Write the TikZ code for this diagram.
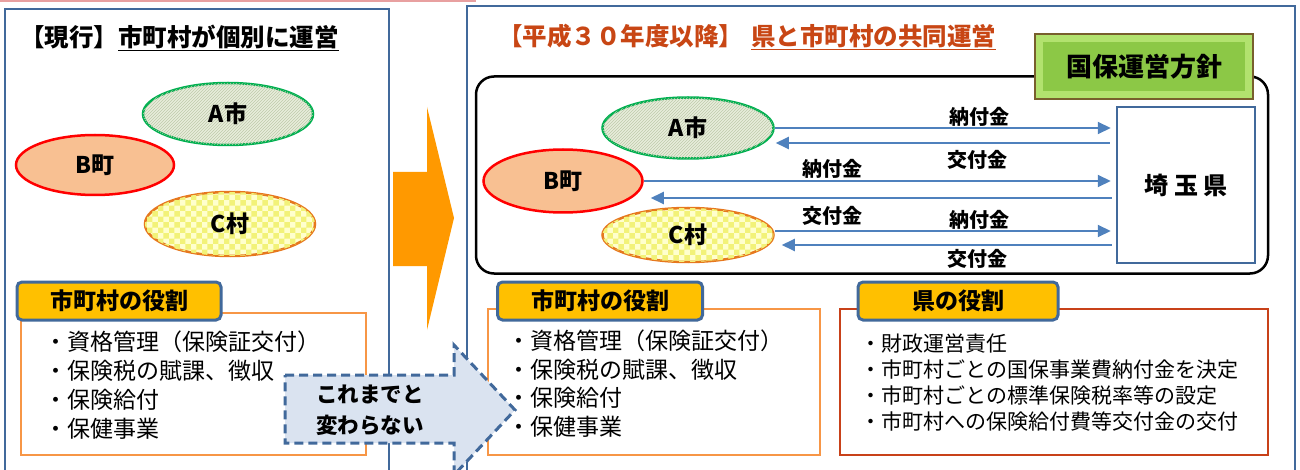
\documentclass[tikz,border=0pt]{standalone}
\usepackage{fontspec}
\setmainfont{Noto Sans CJK JP}
\usetikzlibrary{shapes.geometric,patterns,arrows.meta,positioning}
\definecolor{frameblue}{RGB}{65,105,155}
\definecolor{roleorange}{RGB}{247,150,70}
\definecolor{rolered}{RGB}{200,65,25}
\definecolor{tabyellow}{RGB}{255,192,0}
\definecolor{flowblue}{RGB}{79,129,189}
\definecolor{titlered}{RGB}{200,70,20}
\definecolor{bigorange}{RGB}{255,153,0}
\definecolor{policygreen}{RGB}{140,200,70}
\definecolor{bevelgreen}{RGB}{178,226,110}
\definecolor{talkblue}{RGB}{218,227,240}
\definecolor{shigreen}{RGB}{0,176,80}
\definecolor{shifill}{RGB}{232,237,220}
\definecolor{shiline}{RGB}{190,202,170}
\definecolor{chofill}{RGB}{248,192,146}
\definecolor{sonline}{RGB}{230,120,30}
\definecolor{sonfill}{RGB}{255,255,205}
\definecolor{soncheck}{RGB}{242,242,120}
\begin{document}
\begin{tikzpicture}[x=1pt,y=-1pt,
  city/.style={ellipse, draw, line width=2.5pt, inner sep=0pt,
    font=\fontsize{23}{25}\selectfont\bfseries},
  shi/.style={city, draw=shigreen, fill=shifill,
    postaction={pattern=north east lines, pattern color=shiline}},
  cho/.style={city, draw=red, fill=chofill},
  son/.style={city, draw=sonline, fill=sonfill,
    postaction={pattern=checkerboard, pattern color=soncheck}},
  panel/.style={draw=frameblue, line width=2.5pt},
  roletab/.style={draw=frameblue, line width=3pt, fill=tabyellow, rounded corners=5pt,
    minimum height=38pt, font=\fontsize{23}{25}\selectfont\bfseries},
  rolebox/.style={draw, line width=2pt, fill=white},
  items/.style={anchor=north west, align=left, inner sep=0pt},
  flow/.style={draw=flowblue, line width=2pt, -{Triangle[length=13pt,width=12pt]},
    shorten >=5pt},
  lbl/.style={font=\fontsize{20}{22}\selectfont\bfseries, inner sep=1pt},
  ]
\useasboundingbox (0,0) rectangle (1300,470);
\draw[color={rgb,255:red,232;green,160;blue,160}, line width=2pt] (0,1) -- (476,1);
% left side
\draw[panel] (5,9) rectangle (389,480);
\node[anchor=west, inner sep=0pt, font=\fontsize{24.5}{26}\selectfont\bfseries] (nowtitle) at (20,38)
  {【現行】\underline{市町村が個別に運営}};
\node[shi, minimum width=170pt, minimum height=62pt] (lA) at (228,114) {A市};
\node[cho, minimum width=158pt, minimum height=60pt] (lB) at (95,165) {B町};
\node[son, minimum width=170pt, minimum height=64pt] (lC) at (230,224) {C村};
\node[rolebox, draw=roleorange, minimum width=345pt, minimum height=142pt] (lrole) at (193,384) {};
\node[roletab, minimum width=204pt] (ltab) at (119,301) {市町村の役割};
\node[items, font=\fontsize{23}{29}\selectfont] (litems) at (44,331)
  {・資格管理（保険証交付）\\・保険税の賦課、徴収\\・保険給付\\・保健事業};
% big arrow
\fill[bigorange] (393,172) -- (427,172) -- (427,107) -- (454,218) -- (427,330)
  -- (427,266) -- (393,266) -- cycle;
% right side
\draw[panel] (467,6) rectangle (1295,480);
\node[anchor=west, inner sep=0pt, text=titlered, font=\fontsize{24.5}{26}\selectfont\bfseries] (newtitle) at (498,37)
  {【平成３０年度以降】\hspace{8pt}\underline{県と市町村の共同運営}};
\node[draw, line width=2.5pt, rounded corners=18pt, minimum width=792pt, minimum height=197pt]
  (coop) at (872,175) {};
\node[draw={rgb,255:red,120;green,95;blue,45}, line width=2pt, fill=bevelgreen,
  path picture={\fill[policygreen] ([shift={(8pt,-8pt)}]path picture bounding box.north west)
    rectangle ([shift={(-8pt,8pt)}]path picture bounding box.south east);},
  minimum width=218pt, minimum height=65pt, font=\fontsize{26}{28}\selectfont\bfseries]
  (policy) at (1144,67) {国保運営方針};
\node[panel, fill=white, minimum width=138pt, minimum height=156pt,
  font=\fontsize{24}{26}\selectfont\bfseries] (ken) at (1186,185) {埼 玉 県};
\node[shi, minimum width=171pt, minimum height=61pt] (rA) at (688,128) {A市};
\node[cho, minimum width=159pt, minimum height=63pt] (rB) at (563,181) {B町};
\node[son, minimum width=171pt, minimum height=54pt] (rC) at (688,235) {C村};
\coordinate (rAback) at ([xshift=-4pt,yshift=-15pt]rA.east);
\coordinate (rBback) at ([xshift=2pt,yshift=-17pt]rB.east);
\coordinate (rCgo) at ([yshift=4pt]rC.east);
\coordinate (rCback) at ([xshift=2pt,yshift=-10pt]rC.east);
\draw[flow] (rA.east) -- (rA.east -| ken.west) node[lbl, pos=0.6, above] {納付金};
\draw[flow] (rAback -| ken.west) ++(-6,0) -- (rAback) node[lbl, pos=0.39, below=5pt] {交付金};
\draw[flow] (rB.east) -- (rB.east -| ken.west) node[lbl, pos=0.4, above=1pt] {納付金};
\draw[flow] (rBback -| ken.west) ++(-4,0) -- (rBback) node[lbl, pos=0.6, below=6pt] {交付金};
\draw[flow] (rCgo) -- (rCgo -| ken.west) node[lbl, pos=0.6, above] {納付金};
\draw[flow] (rCback -| ken.west) ++(-4,0) -- (rCback) node[lbl, pos=0.4, below=2pt] {交付金};
\node[rolebox, draw=roleorange, minimum width=332pt, minimum height=146pt] (rrole) at (654,382) {};
\node[roletab, minimum width=205pt] (rtab) at (600,301) {市町村の役割};
\node[items, font=\fontsize{23}{28.5}\selectfont] (ritems) at (507,330)
  {・資格管理（保険証交付）\\・保険税の賦課、徴収\\・保険給付\\・保健事業};
\node[rolebox, draw=rolered, minimum width=428pt, minimum height=146pt] (krole) at (1054,382) {};
\node[roletab, minimum width=200pt] (ktab) at (958,301) {県の役割};
\node[items, font=\fontsize{21}{26}\selectfont] (kitems) at (860,334)
  {・財政運営責任\\・市町村ごとの国保事業費納付金を決定\\・市町村ごとの標準保険税率等の設定\\・市町村への保険給付費等交付金の交付};
% no change arrow
\draw[draw=frameblue, fill=talkblue, line width=3pt, dash pattern=on 9pt off 5pt]
  (285,375) -- (454,375) -- (454,345) -- (515,410) -- (454,475) -- (454,443)
  -- (285,443) -- cycle;
\node[align=center, font=\fontsize{21.5}{31}\selectfont\bfseries] (same) at (370,410)
  {これまでと\\変わらない};
\end{tikzpicture}
\end{document}
